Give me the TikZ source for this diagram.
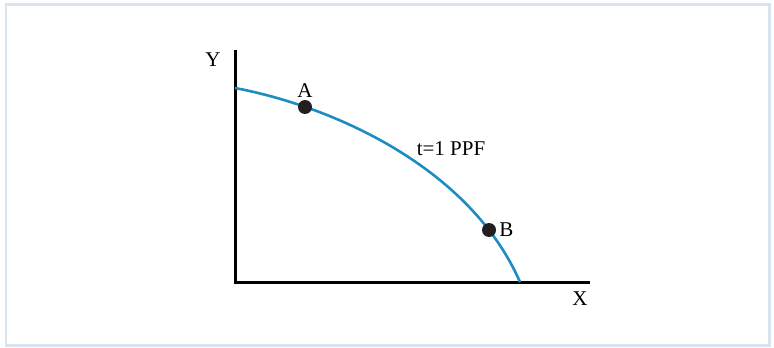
\documentclass[tikz,border=0pt]{standalone}
\usepackage{fontspec}
\setmainfont{Liberation Serif}
\usepackage{tikz}
\usetikzlibrary{positioning}

\definecolor{framecol}{HTML}{D8E4F0}
\definecolor{ppfblue}{HTML}{1E8BC3}
\definecolor{dotcol}{HTML}{231F20}

\begin{document}
\begin{tikzpicture}[
  x=1pt, y=-1pt,
  axis/.style={line width=3pt},
  ppf/.style={ppfblue, line width=2.6pt},
  pt/.style={circle, fill=dotcol, inner sep=0pt, minimum size=14pt},
  lab/.style={font=\fontsize{21}{25}\selectfont, inner sep=1pt}
]
  \useasboundingbox (0,0) rectangle (774,348);
  \draw[framecol, line width=2.5pt] (6,4.5) rectangle (769.5,345.5);

  % axes
  \coordinate (O) at (235,282);
  \coordinate (Ytop) at (235,50);
  \coordinate (Xend) at (590,282);
  \draw[axis] (Ytop) -- (O) -- (Xend);
  \node[lab] (Y) at (213,60) {Y};
  \node[lab] (X) at (580,299) {X};

  % frontier
  \coordinate (start) at (235,88);
  \coordinate (stop) at (520,282);
  \draw[ppf] (start) .. controls (335,107) and (470,168) .. (stop);
  \node[lab] (ppflab) at (451,149) {t=1 PPF};

  % points on the frontier
  \node[pt] (A) at (305,107) {};
  \node[pt] (B) at (489,230) {};
  \node[lab, above=1pt of A] (Alab) {A};
  \node[lab, right=2pt of B] (Blab) {B};
\end{tikzpicture}
\end{document}
